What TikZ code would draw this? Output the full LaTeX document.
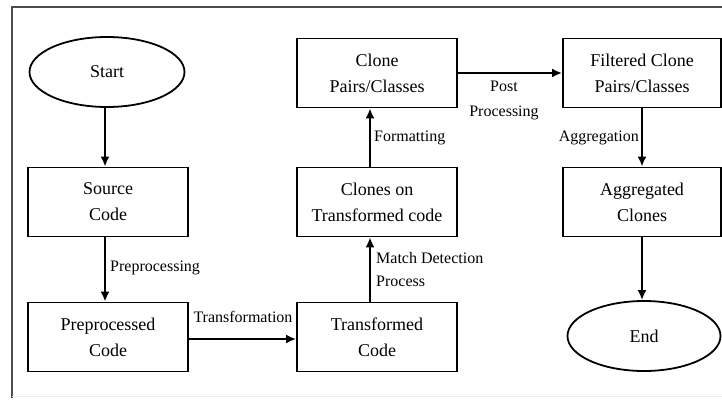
\documentclass[tikz,border=0pt]{standalone}
\usepackage{fontspec}
\setmainfont{Liberation Serif}
\usetikzlibrary{shapes.geometric,arrows.meta}
\begin{document}
\begin{tikzpicture}[x=1pt,y=-1pt,
	stepbox/.style={draw,line width=1.8pt,minimum width=160pt,minimum height=69pt,align=center,font=\fontsize{18}{26}\selectfont},
	term/.style={draw,ellipse,line width=1.8pt,minimum width=155pt,minimum height=70pt,font=\fontsize{18}{26}\selectfont},
	flow/.style={line width=2.4pt,-{Latex[length=10pt,width=9pt]}},
	lbl/.style={inner sep=0pt,font=\fontsize{16}{24}\selectfont}]
\useasboundingbox (0,0) rectangle (722,401);
\draw[line width=1.2pt,black!70] (12,398) -- (12,7) -- (722,7);
\draw[line width=1pt,black!8] (12,396) -- (722,396);
% left column
\node[term] (start) at (107,72) {Start};
\node[stepbox] (src) at (108,202) {Source\\Code};
\node[stepbox] (pre) at (108,337) {Preprocessed\\Code};
% middle column
\node[stepbox] (tc) at (377,337) {Transformed\\Code};
\node[stepbox] (clt) at (377,202) {Clones on\\Transformed code};
\node[stepbox] (cp) at (377,73) {Clone\\Pairs/Classes};
% right column
\node[stepbox,minimum width=158pt] (fcp) at (642,73) {Filtered Clone\\Pairs/Classes};
\node[stepbox,minimum width=158pt] (agg) at (642,202) {Aggregated\\Clones};
\node[term,minimum width=153pt] (end) at (644,336) {End};
% connectors
\draw[flow] ([xshift=-2pt]start.south) -- ([xshift=-3pt]src.north);
\draw[flow] ([xshift=-3pt]src.south) -- ([xshift=-3pt]pre.north);
\draw[flow] ([yshift=-2pt]pre.east) -- ([yshift=-2pt]tc.west);
\draw[flow] ([xshift=-7pt]tc.north) -- ([xshift=-7pt]clt.south);
\draw[flow] ([xshift=-7pt]clt.north) -- ([xshift=-7pt]cp.south);
\draw[flow] (cp.east) -- (fcp.west);
\draw[flow] (fcp.south) -- (agg.north);
\draw[flow] (agg.south) -- ([xshift=-2pt]end.north);
% labels
\node[lbl,anchor=west] (l1) at (110,268) {Preprocessing};
\node[lbl] (l2) at (243,317) {Transformation};
\node[lbl,anchor=west,align=left,font=\fontsize{16}{23}\selectfont] (l3) at (376,270) {Match Detection\\Process};
\node[lbl,anchor=west] (l4) at (374,138) {Formatting};
\node[lbl,align=center,font=\fontsize{16}{25}\selectfont] (l5) at (504,100) {Post\\Processing};
\node[lbl,anchor=east] (l6) at (639,138) {Aggregation};
\end{tikzpicture}
\end{document}
